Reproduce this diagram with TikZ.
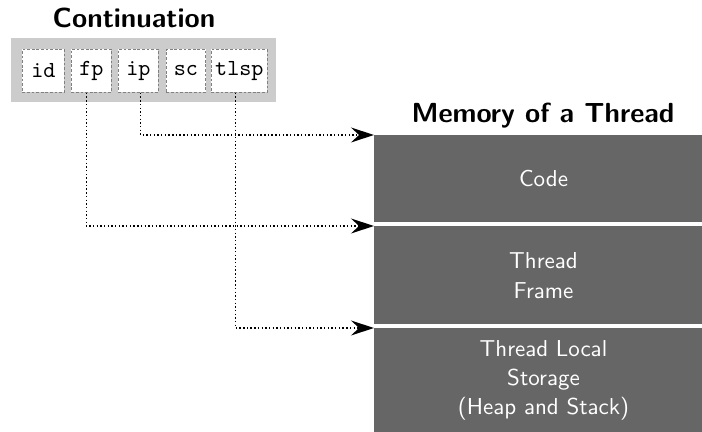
\documentclass[tikz,border=0pt]{standalone}
\usetikzlibrary{arrows.meta}
\definecolor{memfill}{HTML}{666666}
\definecolor{contfill}{HTML}{CCCCCC}
\tikzset{
  title/.style={font=\large\bfseries\sffamily, anchor=base, inner sep=0pt},
  field/.style={draw=gray, dash pattern=on 1.2pt off 0.8pt, line width=0.35pt,
    fill=white, font=\ttfamily, anchor=north west, inner sep=0pt,
    minimum height=18.7pt},
  membox/.style={fill=memfill, text=white, anchor=north west, inner sep=0pt,
    minimum width=147pt, align=center,
    font=\fontsize{10}{12.8}\selectfont\sffamily},
  ptr/.style={densely dotted, line width=0.6pt,
    -{Stealth[length=10pt, width=6.5pt, inset=3.5pt]}},
}
\begin{document}
\begin{tikzpicture}[x=0.4348pt, y=-0.4348pt]
  \useasboundingbox (0,0) rectangle (702,432);

  % continuation record
  \node[title] (conttitle) at (134,28) {Continuation};
  \node[fill=contfill, anchor=north west, inner sep=0pt,
        minimum width=115.2pt, minimum height=27.8pt] (cont) at (11,38) {};
  \node[field, minimum width=18.3pt] (id)   at (22,49)  {id};
  \node[field, minimum width=17.4pt] (fp)   at (71,49)  {fp};
  \node[field, minimum width=17.4pt] (ip)   at (118,49) {ip};
  \node[field, minimum width=17.0pt] (sc)   at (166,49) {sc};
  \node[field, minimum width=24.3pt] (tlsp) at (211,49) {tlsp};

  % memory layout of a thread
  \node[title] (memtitle) at (543,123) {Memory of a Thread};
  \node[membox, minimum height=37.8pt] (code)  at (374,135) {Code};
  \node[membox, minimum height=42.6pt] (frame) at (374,226) {Thread\\Frame};
  \node[membox, minimum height=45.2pt] (tls)   at (374,328)
    {Thread Local\\Storage\\(Heap and Stack)};

  % pointers from the fields into memory
  \draw[ptr] ([xshift=1pt]ip.south)   |- (code.north west);
  \draw[ptr] ([xshift=-2.2pt]fp.south) |- (frame.north west);
  \draw[ptr] ([xshift=-1.7pt]tlsp.south) |- (tls.north west);
\end{tikzpicture}
\end{document}
